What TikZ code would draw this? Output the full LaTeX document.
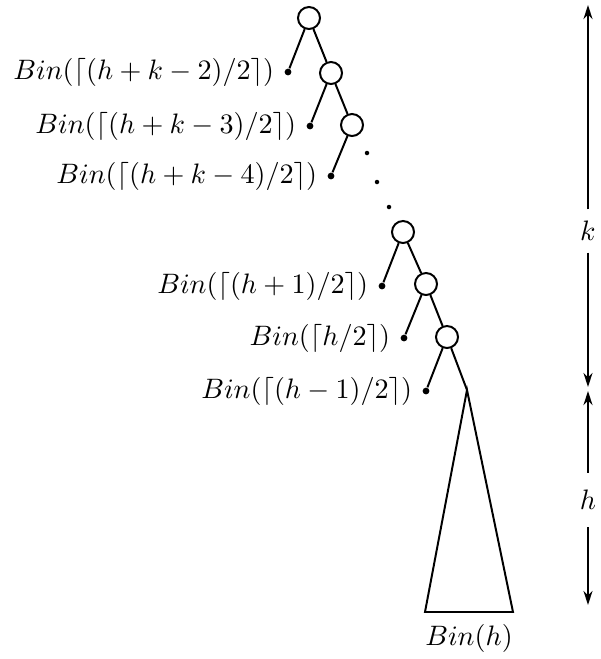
\documentclass[tikz,border=0pt]{standalone}
\usepackage{amsmath}
\usetikzlibrary{arrows.meta, positioning}

\begin{document}
\begin{tikzpicture}[
    x=0.0125cm, y=-0.0125cm,
    >={Stealth[length=5pt, width=3.2pt]},
    vertex/.style={circle, draw, line width=0.7pt, minimum size=0.275cm, inner sep=0pt},
    leaf/.style={circle, fill, inner sep=0pt, minimum size=2.4pt},
    gapdot/.style={circle, fill, inner sep=0pt, minimum size=1.6pt},
    edge/.style={line width=0.7pt},
    dimarrow/.style={->, line width=0.7pt},
    dimlabel/.style={inner xsep=2pt, inner ysep=#1},
    dimlabel/.default=4pt
]
\useasboundingbox (0,0) rectangle (601,659);

% =============================================================
% Upper part of the spine (h+k-2 ... h+k-4)
% =============================================================
\node[vertex] (c1) at (309,18) {};
\node[vertex] (c2) at (331,73) {};
\node[vertex] (c3) at (352,125) {};
\node[leaf] (d1) at (288,72) {};
\node[leaf] (d2) at (310,126) {};
\node[leaf] (d3) at (331,176) {};

\draw[edge] (c1) -- (d1);
\draw[edge] (c1) -- (c2);
\draw[edge] (c2) -- (d2);
\draw[edge] (c2) -- (c3);
\draw[edge] (c3) -- (d3);

\node[left=0pt of d1] (b1) {$Bin(\lceil(h+k-2)/2\rceil)$};
\node[left=0pt of d2] (b2) {$Bin(\lceil(h+k-3)/2\rceil)$};
\node[left=0pt of d3] (b3) {$Bin(\lceil(h+k-4)/2\rceil)$};

% dots in between
\node[gapdot] (e1) at (367,153) {};
\node[gapdot] (e2) at (377,182) {};
\node[gapdot] (e3) at (389,207) {};

% =============================================================
% Lower part of the spine (h+1, h, h-1)
% =============================================================
\node[vertex] (c4) at (403,232) {};
\node[vertex] (c5) at (426,284) {};
\node[vertex] (c6) at (447,337) {};
\node[leaf] (d4) at (382,286) {};
\node[leaf] (d5) at (404,338) {};
\node[leaf] (d6) at (426,391) {};

\draw[edge] (c4) -- (d4);
\draw[edge] (c4) -- (c5);
\draw[edge] (c5) -- (d5);
\draw[edge] (c5) -- (c6);
\draw[edge] (c6) -- (d6);

\node[left=0pt of d4] (b4) {$Bin(\lceil(h+1)/2\rceil)$};
\node[left=0pt of d5] (b5) {$Bin(\lceil h/2\rceil)$};
\node[left=0pt of d6] (b6) {$Bin(\lceil(h-1)/2\rceil)$};

% =============================================================
% Binomial tree of height h
% =============================================================
\coordinate (tip) at (467,390);
\coordinate (bl) at (425,612);
\coordinate (br) at (513,612);
\coordinate (base) at (469,612);
\draw[edge] (c6) -- (tip);
\draw[edge] (tip) -- (bl) -- (br) -- cycle;
\node[below=1pt of base] (bh) {$Bin(h)$};

% =============================================================
% Heights on the right
% =============================================================
\coordinate (ktop) at (588,5);
\coordinate (kbot) at (588,387);
\coordinate (htop) at (588,391);
\coordinate (hbot) at (588,605);
\node[dimlabel] (klab) at (588,231) {$k$};
\node[dimlabel=6pt] (hlab) at (588,500) {$h$};
\draw[dimarrow] (klab) -- (ktop);
\draw[dimarrow] (klab) -- (kbot);
\draw[dimarrow] (hlab) -- (htop);
\draw[dimarrow] (hlab) -- (hbot);

\end{tikzpicture}
\end{document}
